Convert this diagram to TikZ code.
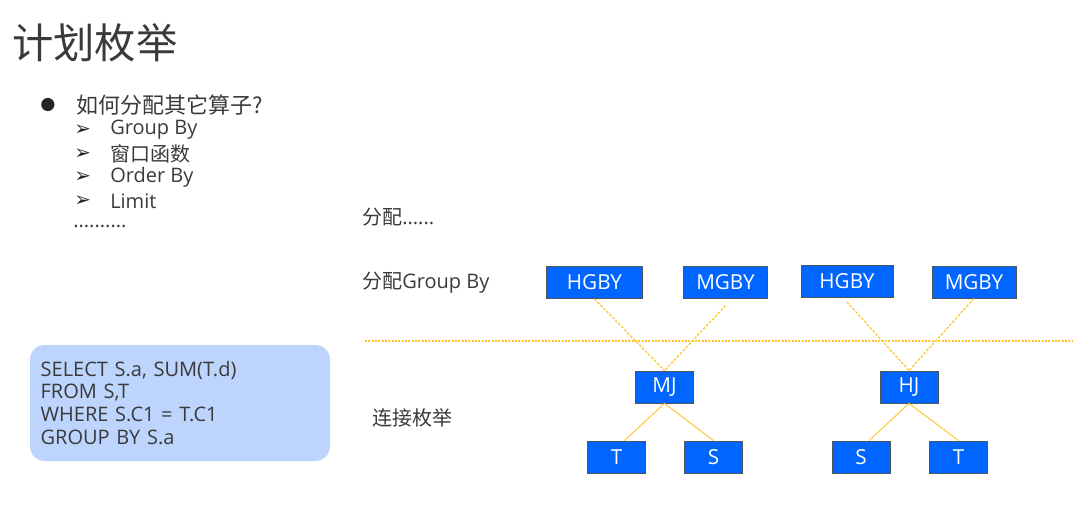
\documentclass[tikz,border=0pt]{standalone}
\usepackage{fontspec}
\setmainfont{Open Sans}
\newfontfamily\cjk{Noto Sans CJK SC}
\newfontfamily\symfont{DejaVu Sans}
\usepackage{xcolor}
\usetikzlibrary{positioning,calc}
\definecolor{opblue}{HTML}{0066FF}
\definecolor{opedge}{HTML}{50545C}
\definecolor{linkyellow}{HTML}{FFC524}
\definecolor{sqlfill}{HTML}{BDD5FD}
\definecolor{textgray}{HTML}{3A3A3A}
\tikzset{
  opbox/.style={draw=opedge, fill=opblue, line width=0.6pt, text=white, font=\fontsize{15.5}{17}\selectfont, minimum height=24pt, minimum width=43.5pt, inner sep=1pt},
  txt/.style={anchor=west, text=textgray, font=\fontsize{15}{17}\selectfont, inner sep=0pt},
  every node/.style={anchor=center}
}

\begin{document}
\begin{tikzpicture}[
  x=0.75pt, y=-0.75pt,
  joinlink/.style={draw=linkyellow, line width=0.7pt},
  gbylink/.style={draw=linkyellow, line width=0.9pt, dash pattern=on 2pt off 1.2pt},
  cutline/.style={draw=linkyellow, line width=1.1pt, dash pattern=on 1.5pt off 1pt},
  sqlbox/.style={fill=sqlfill, rounded corners=11pt, minimum width=225pt, minimum height=87pt, text width=209pt, align=left, inner sep=8pt, text=textgray, font=\fontsize{15}{17.2}\selectfont},
  bullet/.style={txt, font=\symfont\fontsize{13}{15}\selectfont, text=black!85},
  pointer/.style={txt, font=\symfont\fontsize{15}{15}\selectfont, text=black!85}
]
\useasboundingbox (0,0) rectangle (1080,511);

% left column
\node[txt, font=\cjk\fontsize{31}{34}\selectfont] (title) at (12,43) {计划枚举};
\node[bullet] (dot) at (40,105) {●};
\node[txt, font=\cjk\fontsize{16.5}{18}\selectfont] (question) at (76,105) {如何分配其它算子?};
\node[pointer] (arrA) at (74,130) {➢};
\node[txt] (itemA) at (110,130) {Group By};
\node[pointer] (arrB) at (74,154) {➢};
\node[txt] (itemB) at (110,154) {\cjk 窗口函数};
\node[pointer] (arrC) at (74,177) {➢};
\node[txt] (itemC) at (110,177) {Order By};
\node[pointer] (arrD) at (74,201) {➢};
\node[txt] (itemD) at (110,201) {Limit};
\node[txt] (more) at (73,226) {..........};

\node[sqlbox] (sql) at (180,403) {SELECT S.a, SUM(T.d)\\FROM S,T\\WHERE S.C1 = T.C1\\GROUP BY S.a};

% row labels
\node[txt] (assign) at (362,217) {{\cjk 分配}......};
\node[txt] (assigngby) at (362,283) {{\cjk 分配}Group By};
\node[txt] (joinenum) at (372,418) {\cjk 连接枚举};

% operator trees
\node[opbox, minimum width=72.5pt] (hgbyA) at (594.5,282.5) {HGBY};
\node[opbox, minimum width=62.5pt] (mgbyA) at (725.5,282.5) {MGBY};
\node[opbox, minimum width=69pt] (hgbyB) at (847,281.5) {HGBY};
\node[opbox, minimum width=63pt] (mgbyB) at (974,282) {MGBY};

\node[opbox] (mj) at (664.5,387) {MJ};
\node[opbox] (hj) at (909,387) {HJ};

\node[opbox] (tA) at (616.5,457) {T};
\node[opbox] (sA) at (713.5,457) {S};
\node[opbox] (sB) at (861,457) {S};
\node[opbox] (tB) at (958.5,457) {T};

\coordinate (cutL) at (365,341);
\coordinate (cutR) at (1072,341);
\draw[cutline] (cutL) -- (cutR);

\draw[gbylink] (hgbyA.south) -- (mj.north);
\draw[gbylink] ([yshift=-5pt]mgbyA.south) -- (mj.north);
\draw[gbylink] ([yshift=-3pt]hgbyB.south) -- (hj.north);
\draw[gbylink] (mgbyB.south) -- (hj.north);

\draw[joinlink] (mj.south) -- ([xshift=6pt]tA.north);
\draw[joinlink] (mj.south) -- (sA.north);
\draw[joinlink] (hj.south) -- ([xshift=6pt]sB.north);
\draw[joinlink] (hj.south) -- (tB.north);
\end{tikzpicture}
\end{document}
